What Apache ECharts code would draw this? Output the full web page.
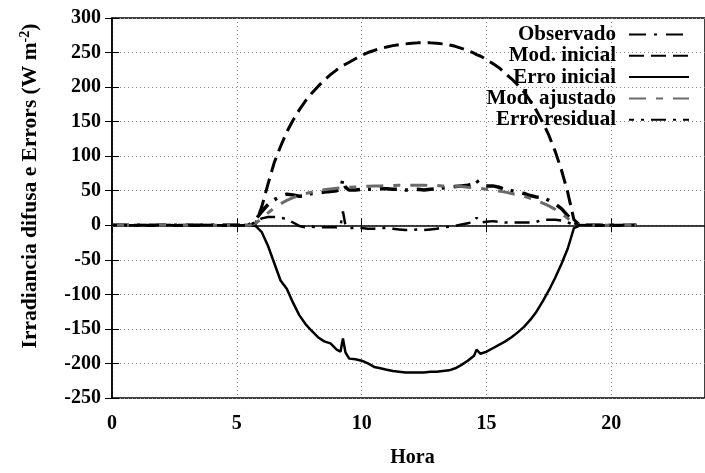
<!DOCTYPE html>
<html>
<head>
<meta charset="utf-8">
<script src="https://cdn.jsdelivr.net/npm/echarts@6/dist/echarts.min.js"></script>
<style>
  html, body { margin: 0; padding: 0; background: #fff; }
  #chart { width: 705px; height: 473px; }
</style>
</head>
<body>
<div id="chart"></div>
<script>
// Hour of day (local time) for every sample
const hours = [0, 5.25, 5.5, 5.75, 6.0, 6.25, 6.5, 6.75, 7.0, 7.25, 7.5, 7.75, 8.0, 8.25, 8.5, 8.75,
  9.0, 9.15, 9.25, 9.35, 9.5, 9.75, 10.0, 10.25, 10.5, 10.75, 11.0, 11.25, 11.5, 11.75, 12.0, 12.25,
  12.5, 12.75, 13.0, 13.25, 13.5, 13.75, 14.0, 14.25, 14.5, 14.6, 14.75, 15.0, 15.25, 15.5, 15.75,
  16.0, 16.25, 16.5, 16.75, 17.0, 17.25, 17.5, 17.75, 18.0, 18.25, 18.5, 18.75, 21.0];

// Observed diffuse irradiance (W m-2)
const observado = [0, 0, 1, 8, 20, 30, 37, 42, 45, 44, 42, 43, 46, 47, 48, 49,
  50, 52, 67, 55, 51, 51, 52, 52, 52, 53, 53, 52, 52, 51, 51, 52,
  51, 52, 53, 54, 55, 56, 57, 58, 60, 65, 58, 57, 57, 55, 52,
  50, 48, 46, 43, 41, 40, 36, 31, 24, 14, 4, 0, 0];

// Initial model
const modInicial = [0, 0, 0, 2, 27, 60, 91, 114, 135, 152, 167, 180, 191, 201, 210, 218,
  225, 229, 231, 233, 236, 241, 246, 250, 253, 256, 258, 260, 261.5, 262.5, 263.5, 264,
  264, 264, 263.5, 262.5, 261, 259, 256, 253, 249, 247, 245, 240, 234, 228, 220,
  212, 203, 193, 180, 166, 149, 130, 107, 80, 48, 8, 0, 0];

// Initial error
const erroInicial = [0, 0, 0, -1, -10, -30, -55, -80, -92, -112, -130, -143, -153, -162, -168, -171,
  -180, -183, -164, -184, -193, -194, -196, -200, -205, -207, -209, -211, -212, -213, -213, -213,
  -213, -212, -212, -211, -210, -207, -202, -196, -189, -180, -186, -183, -178, -173, -168,
  -162, -155, -147, -137, -125, -110, -94, -76, -56, -34, -4, 0, 0];

// Adjusted model
const modAjustado = [0, 0, 0, 3, 10, 18, 25, 31, 36, 40, 43, 46, 48, 50, 51.5, 52.5,
  53.5, 54, 54, 54.5, 55, 55.5, 56, 56.5, 57, 57, 57.5, 57.5, 58, 58, 58, 58,
  58, 57.5, 57.5, 57, 57, 56.5, 56, 55, 54.5, 54, 53.5, 52, 51, 49.5, 48,
  46, 44, 42, 39, 36, 32, 28, 23, 17, 10, 3, 0, 0];

// Residual error
const erroResidual = [0, 0, 0, 5, 10, 12, 12, 11, 9, 4, -1, -3, -2, -3, -3, -3,
  -3, -2, 20, 0, -4, -4, -4, -5, -5, -4, -4, -5, -6, -7, -7, -6,
  -7, -6, -5, -3, -2, -1, 1, 3, 5, 11, 4, 5, 6, 5, 4,
  4, 4, 4, 4, 5, 8, 8, 8, 7, 4, 1, 0, 0];

const yTicks = { min: -250, max: 300, step: 50 };
const xTicks = { min: 0, max: 23.75, step: 5 };

const FONT = 'Liberation Serif';
const pairs = vals => hours.map((h, i) => [h, vals[i]]);

const seriesDefs = [
  { name: 'Observado', values: observado, color: '#000', width: 3.5, dash: [17, 8, 3, 9], offset: 0 },
  { name: 'Mod. inicial', values: modInicial, color: '#000', width: 3, dash: [15, 7], offset: 0 },
  { name: 'Erro inicial', values: erroInicial, color: '#000', width: 2.5, dash: 'solid', offset: 0 },
  { name: 'Mod. ajustado', values: modAjustado, color: '#6a6a6a', width: 3, dash: [17, 10, 7, 10], offset: 0 },
  { name: 'Erro residual', values: erroResidual, color: '#000', width: 2.5, dash: [15, 7, 3, 7], offset: 10 }
];

const chart = echarts.init(document.getElementById('chart'), null, { renderer: 'canvas' });

const tickLabel = { fontFamily: FONT, fontWeight: 'bold', fontSize: 20, color: '#000' };
const dotted = { color: '#888', type: [1, 3], width: 1 };

chart.setOption({
  animation: false,
  backgroundColor: '#fff',
  grid: { left: 112, right: -2, top: 18, bottom: 66.5, show: true, borderColor: '#000', borderWidth: 1.5, backgroundColor: 'transparent' },
  legend: {
    orient: 'vertical',
    align: 'right',
    right: 15,
    top: 24,
    padding: 0,
    itemWidth: 60,
    itemHeight: 14,
    itemGap: 0.3,
    itemStyle: { opacity: 0, borderWidth: 0, color: 'rgba(0,0,0,0)', borderColor: 'rgba(0,0,0,0)' },
    textStyle: { fontFamily: FONT, fontWeight: 'bold', fontSize: 21, color: '#000', lineHeight: 21, padding: [0, 8, 0, 0] },
    data: seriesDefs.map(s => s.name)
  },
  graphic: [{
    type: 'text',
    x: 30,
    y: 186,
    rotation: Math.PI / 2,
    style: {
      text: 'Irradiancia difusa e Errors (W m{sup|-2})',
      align: 'center',
      verticalAlign: 'middle',
      fontFamily: FONT, fontWeight: 'bold', fontSize: 21.5, fill: '#000',
      rich: { sup: { fontFamily: FONT, fontWeight: 'bold', fontSize: 14, fill: '#000', verticalAlign: 'top', padding: [0, 0, 9, 0] } }
    }
  }],
  xAxis: [
    {
      type: 'value', min: xTicks.min, max: xTicks.max, interval: xTicks.step,
      name: 'Hora', nameLocation: 'middle', nameGap: 50,
      nameTextStyle: { fontFamily: FONT, fontWeight: 'bold', fontSize: 20, color: '#000', padding: [0, 0, 0, 8] },
      axisLine: { lineStyle: { color: '#000', width: 1.5 } },
      axisTick: { inside: true, length: 7, lineStyle: { color: '#000' } },
      axisLabel: Object.assign({ margin: 16, showMaxLabel: false,
        formatter: v => (v % xTicks.step === 0 ? String(v) : '') }, tickLabel),
      splitLine: { show: true, lineStyle: dotted }
    },
    {
      type: 'value', position: 'top', min: xTicks.min, max: xTicks.max, interval: xTicks.step,
      axisLine: { show: false },
      axisTick: { inside: true, length: 7, lineStyle: { color: '#000' } },
      axisLabel: { show: false }, splitLine: { show: false }
    }
  ],
  yAxis: [
    {
      type: 'value', min: yTicks.min, max: yTicks.max, interval: yTicks.step,
      axisLine: { lineStyle: { color: '#000', width: 1.5 } },
      axisTick: { inside: true, length: 7, lineStyle: { color: '#000' } },
      axisLabel: Object.assign({ margin: 11 }, tickLabel),
      splitLine: { show: true, lineStyle: dotted }
    },
    {
      type: 'value', position: 'right', min: yTicks.min, max: yTicks.max, interval: yTicks.step,
      axisLine: { show: false },
      axisTick: { inside: true, length: 7, lineStyle: { color: '#000' } },
      axisLabel: { show: false }, splitLine: { show: false }
    }
  ],
  series: seriesDefs.map(s => ({
    name: s.name,
    type: 'line',
    xAxisIndex: 0,
    yAxisIndex: 0,
    data: pairs(s.values),
    showSymbol: false,
    symbol: 'none',
    smooth: false,
    color: s.color,
    lineStyle: { color: s.color, width: s.width, type: s.dash, dashOffset: s.offset, cap: 'butt' }
  }))
});
</script>
</body>
</html>
